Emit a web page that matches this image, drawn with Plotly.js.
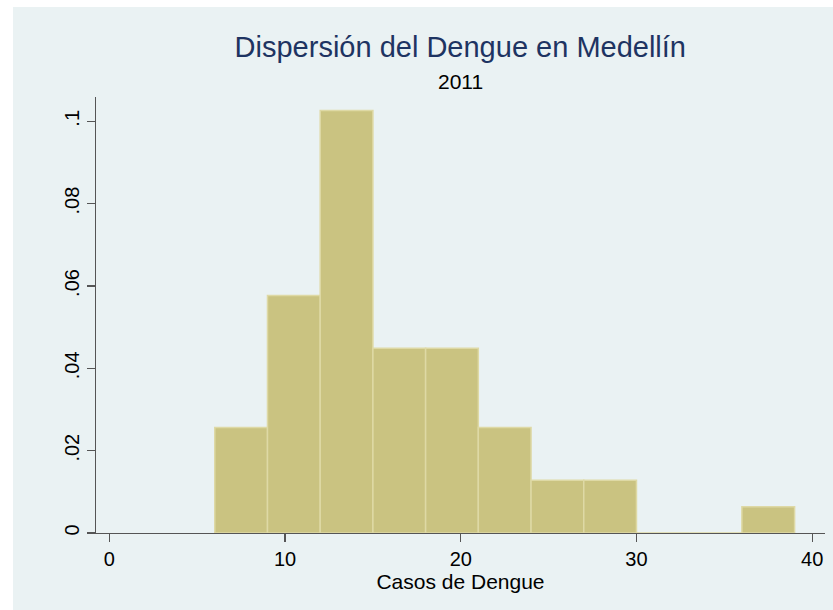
<!DOCTYPE html>
<html>
<head>
<meta charset="utf-8">
<script src="https://cdn.plot.ly/plotly-3.0.1.min.js"></script>
<style>
  html, body { margin: 0; padding: 0; background: #ffffff; }
  #chart { width: 833px; height: 610px; }
</style>
</head>
<body>
<div id="chart"></div>
<script>
// Histogram of weekly dengue cases, Medellín 2011 (bin width 3, density scale)
const binStarts = [6, 9, 12, 15, 18, 21, 24, 27, 30, 33, 36];
const binWidth = 3;
const density = [0.0256, 0.0577, 0.1026, 0.0449, 0.0449, 0.0256, 0.0128, 0.0128, 0, 0, 0.0064];

const xTickVals = [0, 10, 20, 30, 40];
const yTickVals = [0, 0.02, 0.04, 0.06, 0.08, 0.1];
const yTickText = ['0', '.02', '.04', '.06', '.08', '.1'];

const titleText = 'Dispersión del Dengue en Medellín';
const subtitleText = '2011';
const xTitleText = 'Casos de Dengue';

const font = 'Liberation Sans, Arial, sans-serif';
const regionColor = '#eaf2f3';

const trace = {
  type: 'bar',
  x: binStarts,
  y: density,
  width: binStarts.map(() => binWidth),
  offset: 0,
  marker: {
    color: 'rgb(202,195,129)',
    line: { color: 'rgb(222,217,165)', width: 1.5 }
  },
  hoverinfo: 'x+y'
};

const layout = {
  width: 833,
  height: 610,
  margin: { l: 96, r: 8, t: 97, b: 77 },
  paper_bgcolor: '#ffffff',
  plot_bgcolor: '#ffffff',
  showlegend: false,
  bargap: 0,
  font: { family: font, color: '#000000', size: 20 },
  title: {
    text: titleText,
    font: { family: font, size: 29, color: 'rgb(30,52,98)' },
    x: 0.5526, xref: 'container', xanchor: 'center',
    y: 1 - 46.5 / 610, yref: 'container', yanchor: 'middle'
  },
  annotations: [{
    text: subtitleText,
    xref: 'paper', yref: 'paper',
    x: 0.5, y: 1 + (97 - 82) / 436,
    xanchor: 'center', yanchor: 'middle',
    showarrow: false,
    font: { family: font, size: 21, color: '#000000' }
  }],
  shapes: [{
    // light graph region behind the plot area
    type: 'rect', xref: 'paper', yref: 'paper', layer: 'below',
    x0: -83 / 729, x1: 20 / 729 + 1,
    y0: -100 / 436, y1: 1 + 90 / 436,
    fillcolor: regionColor, line: { width: 0 }
  }],
  xaxis: {
    range: [-0.76, 40.73],
    tickvals: xTickVals,
    ticks: 'outside', ticklen: 8, tickwidth: 1.2, tickcolor: '#555555',
    showline: true, linecolor: '#555555', linewidth: 1.2,
    showgrid: false, zeroline: false,
    tickfont: { family: font, size: 20, color: '#000000' },
    title: {
      text: xTitleText,
      font: { family: font, size: 21, color: '#000000' },
      standoff: 0
    },
    automargin: false,
    fixedrange: true
  },
  yaxis: {
    range: [0, 0.1059],
    tickvals: yTickVals,
    ticktext: yTickText,
    tickangle: -90,
    ticks: 'outside', ticklen: 8, tickwidth: 1.2, tickcolor: '#555555',
    showline: true, linecolor: '#555555', linewidth: 1.2,
    showgrid: true, gridcolor: regionColor, gridwidth: 1.5,
    zeroline: false,
    tickfont: { family: font, size: 20, color: '#000000' },
    automargin: false,
    fixedrange: true
  }
};

Plotly.newPlot('chart', [trace], layout, { displayModeBar: false, staticPlot: true });
</script>
</body>
</html>
